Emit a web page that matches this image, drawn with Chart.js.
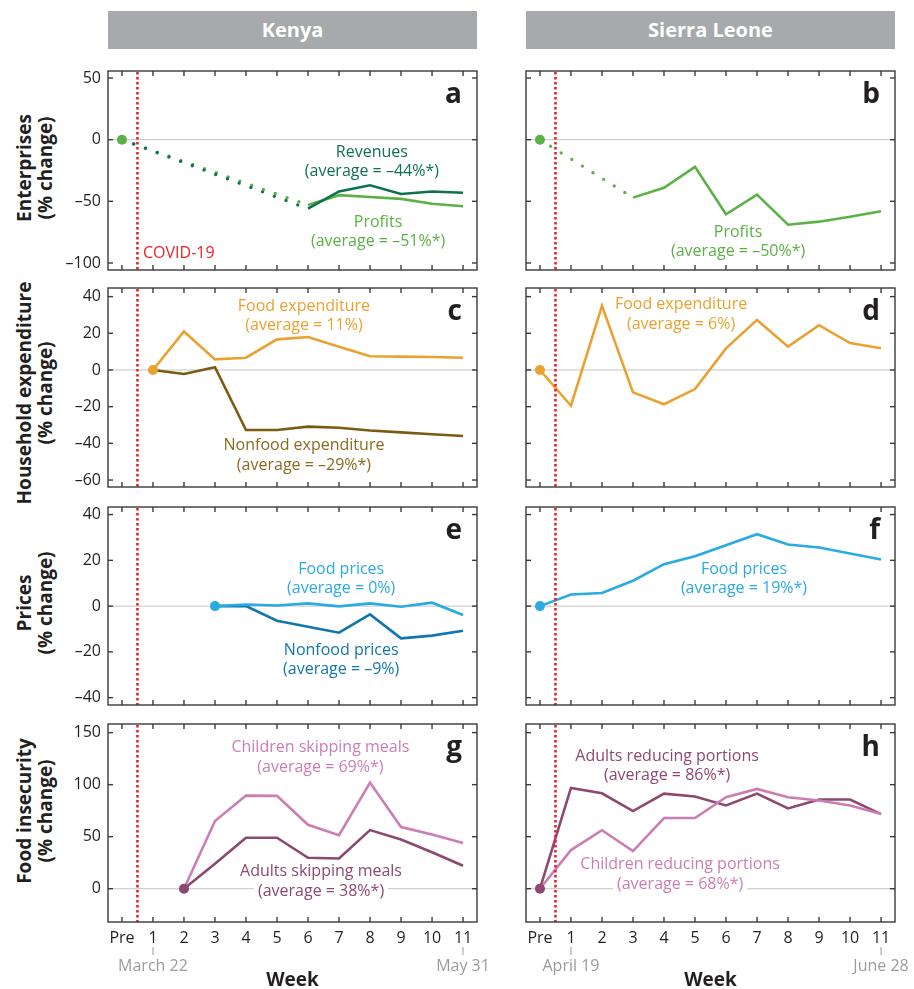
<!DOCTYPE html>
<html>
<head>
<meta charset="utf-8">
<script src="https://cdn.jsdelivr.net/npm/chart.js@4.4.1/dist/chart.umd.min.js"></script>
<style>
  body { margin: 0; background: #fff; font-family: "Open Sans", Lato, sans-serif; }
  #wrap { position: relative; width: 914px; height: 989px; overflow: hidden; }
  .hdr { position: absolute; top: 11px; height: 38px; width: 369px; background: #a7a9ac;
         color: #fff; font-weight: bold; font-size: 20px; line-height: 38px; text-align: center; }
  .ytitle { position: absolute; left: 35px; transform: translate(-50%, -50%) rotate(-90deg);
            white-space: nowrap; text-align: center; font-weight: bold; font-size: 19px;
            line-height: 21px; color: #231f20; }
  canvas { position: absolute; }
</style>
</head>
<body>
<div id="wrap">
  <div class="hdr" style="left:108px">Kenya</div>
  <div class="hdr" style="left:526px">Sierra Leone</div>
  <div class="ytitle" style="top:168px">Enterprises<br>(% change)</div>
  <div class="ytitle" style="top:393px">Household expenditure<br>(% change)</div>
  <div class="ytitle" style="top:603px">Prices<br>(% change)</div>
  <div class="ytitle" style="top:811px">Food insecurity<br>(% change)</div>
</div>
<script>
// ---- data (index 0 = "Pre", then weeks 1..11) ----
const xLabels = ['Pre', '1', '2', '3', '4', '5', '6', '7', '8', '9', '10', '11'];
const weeks = [0, 1, 2, 3, 4, 5, 6, 7, 8, 9, 10, 11];
const covidOnset = 0.5;
const dateWeeks = [1, 11];
const kenyaDates = ['March 22', 'May 31'];
const sierraDates = ['April 19', 'June 28'];

const kenyaRevenues = [0, null, null, null, null, null, -56, -42, -37, -44, -42, -43];
const kenyaProfits  = [0, null, null, null, null, null, -53, -45, -46.5, -48, -52, -54];
const sierraProfits = [0, null, null, -47, -39, -22, -60.5, -44.5, -69, -66.5, -62.5, -58];

const kenyaFoodExp    = [null, 0, 21, 5.8, 6.7, 16.7, 18, 12.7, 7.5, 7.3, 7.1, 6.7];
const kenyaNonfoodExp = [null, 0, -2.2, 1.5, -32.7, -32.7, -30.9, -31.5, -33, -34, -35, -36];
const sierraFoodExp   = [0, -19.5, 35, -12.2, -18.7, -10.4, 11.8, 27.3, 12.7, 24.4, 14.7, 11.8];

const kenyaFoodPrices    = [null, null, null, 0, 0.7, 0.3, 1.2, -0.1, 1.2, -0.3, 1.5, -3.9];
const kenyaNonfoodPrices = [null, null, null, 0, 0, -6.4, -9, -11.6, -3.6, -14.1, -12.9, -10.8];
const sierraFoodPrices   = [0, 5.1, 5.7, 11.1, 18.3, 21.8, 26.6, 31.4, 26.9, 25.6, 23, 20.4];

const kenyaChildrenSkip    = [null, null, 0, 65, 89.5, 89.2, 61.4, 51.5, 102, 59.2, 52, 44];
const kenyaAdultsSkip      = [null, null, 0, 24, 49, 49, 29.7, 29.1, 56.3, 47.3, 35, 22];
const sierraAdultsReduce   = [0, 96.8, 91.7, 74.6, 91.4, 88.6, 80, 91.4, 77.1, 85.7, 85.7, 71.7];
const sierraChildrenReduce = [0, 37.1, 56.2, 36.2, 67.9, 67.9, 87.9, 95.9, 87.9, 84.8, 80, 71.7];

const enterpriseTicks = [-100, -50, 0, 50];
const expenditureTicks = [-60, -40, -20, 0, 20, 40];
const priceTicks = [-40, -20, 0, 20, 40];
const insecurityTicks = [0, 50, 100, 150];

// ---- styling ----
const FONT = '"Open Sans", Lato, sans-serif';
const C = {
  revenue: '#0f7152', profit: '#5bb146', food: '#e9a22f', nonfood: '#7b5a12',
  foodPrice: '#29abe2', nonfoodPrice: '#1076ad', child: '#cc7db4', adult: '#8d4870',
  covid: '#e8222b', text: '#231f20', frame: '#3a3a3a', zero: '#c4c4c4', date: '#9b9b9b'
};
Chart.defaults.font.family = FONT;

const rowScales = [
  { min: -105.7, max: 55.7, ticks: enterpriseTicks },
  { min: -63.8, max: 44.7, ticks: expenditureTicks },
  { min: -43.2, max: 43.3, ticks: priceTicks },
  { min: -32, max: 158.3, ticks: insecurityTicks }
];
const colLeft = [108, 526];
const rowTop = [71, 288, 507, 724];
const rowBottom = [270, 487, 705, 922];
const plotW = 369;

const panels = [
  { letter: 'a', col: 0, row: 0, dotColor: C.profit, dotted: true,
    lines: [{ data: kenyaRevenues, color: C.revenue }, { data: kenyaProfits, color: C.profit }],
    notes: [
      { x: 8.06, y: -10, color: C.revenue, lines: ['Revenues', '(average = –44%*)'] },
      { x: 8.26, y: -66.8, color: C.profit, lines: ['Profits', '(average = –51%*)'] },
      { x: 0.68, y: -91.9, color: C.covid, align: 'left', lines: ['COVID-19'] }
    ] },
  { letter: 'b', col: 1, row: 0, dotColor: C.profit, dotted: true,
    lines: [{ data: sierraProfits, color: C.profit }],
    notes: [{ x: 6.39, y: -74.9, color: C.profit, lines: ['Profits', '(average = –50%*)'] }] },
  { letter: 'c', col: 0, row: 1, dotColor: C.food,
    lines: [{ data: kenyaFoodExp, color: C.food }, { data: kenyaNonfoodExp, color: C.nonfood }],
    notes: [
      { x: 5.87, y: 34.9, color: C.food, lines: ['Food expenditure', '(average = 11%)'] },
      { x: 5.87, y: -41.4, color: '#8a6a1f', lines: ['Nonfood expenditure', '(average = –29%*)'] }
    ] },
  { letter: 'd', col: 1, row: 1, dotColor: C.food,
    lines: [{ data: sierraFoodExp, color: C.food }],
    notes: [{ x: 4.55, y: 35.5, color: C.food, lines: ['Food expenditure', '(average = 6%)'] }] },
  { letter: 'e', col: 0, row: 2, dotColor: C.foodPrice,
    lines: [{ data: kenyaFoodPrices, color: C.foodPrice }, { data: kenyaNonfoodPrices, color: C.nonfoodPrice }],
    notes: [
      { x: 7.07, y: 16.1, color: C.foodPrice, lines: ['Food prices', '(average = 0%)'] },
      { x: 7.07, y: -19.2, color: C.nonfoodPrice, lines: ['Nonfood prices', '(average = –9%)'] }
    ] },
  { letter: 'f', col: 1, row: 2, dotColor: C.foodPrice,
    lines: [{ data: sierraFoodPrices, color: C.foodPrice }],
    notes: [{ x: 6.58, y: 16.1, color: C.foodPrice, lines: ['Food prices', '(average = 19%*)'] }] },
  { letter: 'g', col: 0, row: 3, dotColor: C.adult,
    lines: [{ data: kenyaChildrenSkip, color: C.child }, { data: kenyaAdultsSkip, color: C.adult }],
    notes: [
      { x: 6.4, y: 135.3, color: C.child, lines: ['Children skipping meals', '(average = 69%*)'] },
      { x: 6.42, y: 16.3, color: C.adult, bg: true, lines: ['Adults skipping meals', '(average = 38%*)'] }
    ] },
  { letter: 'h', col: 1, row: 3, dotColor: C.adult,
    lines: [{ data: sierraChildrenReduce, color: C.child }, { data: sierraAdultsReduce, color: C.adult }],
    notes: [
      { x: 4.1, y: 127.6, color: C.adult, lines: ['Adults reducing portions', '(average = 86%*)'] },
      { x: 4.52, y: 23, color: C.child, bg: true, lines: ['Children reducing portions', '(average = 68%*)'] }
    ] }
];

function toPoints(arr) {
  return weeks.map((w, i) => ({ x: w, y: arr[i] }));
}

function stroke(ctx, x1, y1, x2, y2) {
  ctx.beginPath(); ctx.moveTo(x1, y1); ctx.lineTo(x2, y2); ctx.stroke();
}

function noScalePadding(sc) {
  sc.paddingTop = 0; sc.paddingBottom = 0; sc.paddingLeft = 0; sc.paddingRight = 0;
}

/**
 * Frame, inward ticks, zero line, COVID marker, notes and the panel letter
 */
function makeDecor(p, scaleInfo) {
  return {
    id: 'decor' + p.letter,
    beforeDatasetsDraw(chart) {
      const { ctx, chartArea: a, scales: { x, y } } = chart;
      ctx.save();
      ctx.strokeStyle = C.zero; ctx.lineWidth = 1;
      const y0 = y.getPixelForValue(0);
      stroke(ctx, a.left, y0, a.right, y0);
      ctx.font = '16px ' + FONT;
      ctx.textBaseline = 'middle';
      p.notes.forEach(n => {
        ctx.textAlign = n.align || 'center';
        const px = x.getPixelForValue(n.x), py = y.getPixelForValue(n.y);
        n.lines.forEach((t, i) => {
          const ty = py + i * 19.5;
          if (n.bg) {
            const w = ctx.measureText(t).width;
            ctx.fillStyle = '#fff';
            ctx.fillRect(px - w / 2 - 4, ty - 9, w + 8, 18);
          }
          ctx.fillStyle = n.color;
          ctx.fillText(t, px, ty);
        });
      });
      ctx.restore();
    },
    afterDatasetsDraw(chart) {
      const { ctx, chartArea: a, scales: { x } } = chart;
      ctx.save();
      ctx.strokeStyle = C.covid; ctx.lineWidth = 2.6;
      ctx.setLineDash([2.6, 2.4]);
      const cx = x.getPixelForValue(covidOnset);
      stroke(ctx, cx, a.top + 1, cx, a.bottom);
      ctx.restore();
    },
    afterDraw(chart) {
      const { ctx, chartArea: a, scales: { x, y } } = chart;
      ctx.save();
      ctx.strokeStyle = C.frame; ctx.lineWidth = 1.4;
      ctx.strokeRect(a.left, a.top, a.width, a.height);
      const tk = 5;
      weeks.forEach(w => {
        const px = x.getPixelForValue(w);
        stroke(ctx, px, a.top, px, a.top + tk);
        stroke(ctx, px, a.bottom, px, a.bottom - tk);
      });
      scaleInfo.ticks.forEach(v => {
        const py = y.getPixelForValue(v);
        stroke(ctx, a.left, py, a.left + tk, py);
        stroke(ctx, a.right, py, a.right - tk, py);
      });
      // panel letter
      ctx.fillStyle = C.text;
      ctx.font = 'bold 28px ' + FONT;
      ctx.textAlign = 'right'; ctx.textBaseline = 'alphabetic';
      ctx.fillText(p.letter, a.right - 15, a.top + 32);
      // date markers and axis title under the bottom row
      if (p.row === 3) {
        const dates = p.col === 0 ? kenyaDates : sierraDates;
        ctx.strokeStyle = C.date; ctx.lineWidth = 1;
        ctx.fillStyle = C.date; ctx.font = '16px ' + FONT;
        ctx.textAlign = 'center'; ctx.textBaseline = 'middle';
        dateWeeks.forEach((w, i) => {
          const px = x.getPixelForValue(w);
          stroke(ctx, px, a.bottom + 25, px, a.bottom + 33);
          ctx.fillText(dates[i], px, a.bottom + 44);
        });
        ctx.fillStyle = C.text;
        ctx.font = 'bold 19px ' + FONT;
        ctx.fillText('Week', (a.left + a.right) / 2, a.bottom + 59);
      }
      ctx.restore();
    }
  };
}

const wrap = document.getElementById('wrap');

panels.forEach(p => {
  const s = rowScales[p.row];
  const yW = p.col === 0 ? 60 : 10;
  const T = rowTop[p.row], B = rowBottom[p.row];
  const last = p.row === 3;
  const padTop = 6, padRight = 30;
  const xAxisH = 34;
  const below = last ? 989 - B : 6;
  const W = yW + plotW + padRight;
  const H = padTop + (B - T) + below;

  const cv = document.createElement('canvas');
  cv.width = W; cv.height = H;
  cv.style.left = (colLeft[p.col] - yW) + 'px';
  cv.style.top = (T - padTop) + 'px';
  cv.style.width = W + 'px'; cv.style.height = H + 'px';
  wrap.appendChild(cv);

  const datasets = [];
  // starting marker drawn on top of everything
  const first = p.lines[0].data.findIndex(v => v !== null);
  datasets.push({
    data: [{ x: weeks[first], y: p.lines[0].data[first] }],
    showLine: false, pointRadius: 5, pointBackgroundColor: p.dotColor,
    pointBorderWidth: 0, order: 0
  });
  p.lines.forEach((ln, i) => {
    datasets.push({
      data: toPoints(ln.data), borderColor: ln.color, borderWidth: 2.6,
      pointRadius: 0, spanGaps: false, tension: 0, order: i + 1
    });
    if (p.dotted) {
      // dotted connector from "Pre" to the first observed week
      const k = ln.data.findIndex((v, j) => j > 0 && v !== null);
      datasets.push({
        data: [{ x: weeks[0], y: ln.data[0] }, { x: weeks[k], y: ln.data[k] }],
        borderColor: ln.color, borderWidth: 3.4, borderDash: [0, 12.5],
        borderCapStyle: 'round', pointRadius: 0, order: i + 1
      });
    }
  });

  new Chart(cv, {
    type: 'line',
    data: { datasets },
    options: {
      responsive: false,
      animation: false,
      layout: { padding: { top: padTop, right: padRight, left: 0, bottom: last ? below - xAxisH : below } },
      plugins: { legend: { display: false }, tooltip: { enabled: false } },
      scales: {
        x: {
          type: 'linear', min: -0.45, max: 11.45, display: last,
          afterBuildTicks: sc => { sc.ticks = weeks.map(v => ({ value: v })); },
          afterFit: sc => { noScalePadding(sc); sc.height = last ? xAxisH : 0; },
          ticks: { callback: (v, i) => xLabels[i], font: { size: 16 }, color: C.text,
                   padding: 7, autoSkip: false, maxRotation: 0 },
          grid: { display: false, drawTicks: false },
          border: { display: false }
        },
        y: {
          type: 'linear', min: s.min, max: s.max,
          afterBuildTicks: sc => { sc.ticks = s.ticks.map(v => ({ value: v })); },
          afterFit: sc => { noScalePadding(sc); sc.width = yW; },
          ticks: { display: p.col === 0, callback: v => (v < 0 ? '–' + Math.abs(v) : String(v)),
                   font: { size: 16 }, color: C.text, padding: 7 },
          grid: { display: false, drawTicks: false },
          border: { display: false }
        }
      }
    },
    plugins: [makeDecor(p, s)]
  });
});
</script>
</body>
</html>
